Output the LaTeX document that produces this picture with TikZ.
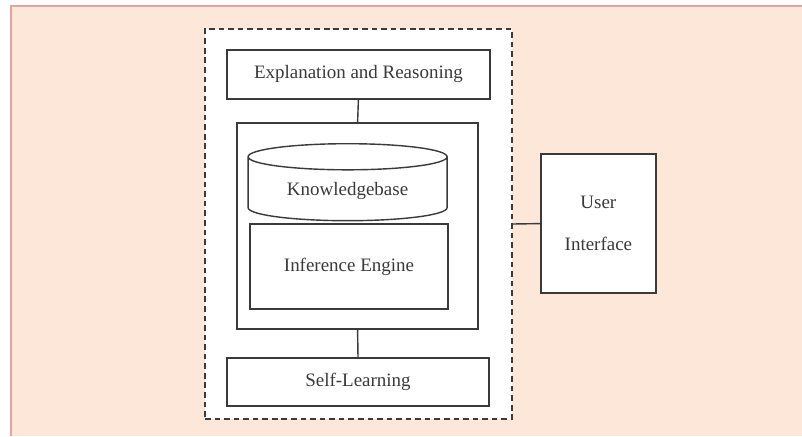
\documentclass[tikz,border=0pt]{standalone}
\usepackage{fontspec}
\setmainfont{Liberation Serif}
\usepackage{xcolor}
\usetikzlibrary{shapes.geometric}
\definecolor{bgpeach}{HTML}{FCE7D9}
\definecolor{bgedge}{HTML}{E4A3A3}
\definecolor{inkgray}{HTML}{3A3A3A}

\begin{document}
\begin{tikzpicture}[
  box/.style={draw=inkgray, fill=white, line width=1pt, align=center, text=inkgray, font=\fontsize{13.5}{30}\selectfont},
  drum/.style={box, cylinder, shape border rotate=90, aspect=0.2},
  link/.style={draw=inkgray, line width=1pt}
]
\useasboundingbox (0,0) rectangle (20.05,10.9);
\fill[bgpeach] (0.275,0) rectangle (20.05,10.75);
\draw[bgedge, line width=1.4pt] (0.275,0) -- (0.275,10.75) -- (20.05,10.75);
\node[box, dashed, dash pattern=on 4pt off 2.8pt, minimum width=7.675cm, minimum height=9.75cm] (system) at (8.9625,5.3) {};
\node[box, minimum width=6.575cm, minimum height=1.225cm] (explain) at (8.96,9.04) {Explanation and Reasoning};
\node[box, minimum width=6.025cm, minimum height=5.15cm] (core) at (8.94,5.25) {};
\node[drum, minimum width=4.975cm, minimum height=1.925cm, anchor=north] (kbase) at (8.69,7.325) {Knowledgebase};
\node[box, minimum width=4.95cm, minimum height=2.125cm] (engine) at (8.725,4.24) {Inference Engine};
\node[box, minimum width=6.55cm, minimum height=1.2cm] (selflearn) at (8.95,1.35) {Self-Learning};
\node[box, minimum width=2.875cm, minimum height=3.475cm] (ui) at (14.96,5.31) {User\\Interface};
\draw[link] (explain.south) -- (core.north);
\draw[link] (core.south) -- (selflearn.north);
\draw[link] (system.east) -- (ui.west);
\end{tikzpicture}
\end{document}
